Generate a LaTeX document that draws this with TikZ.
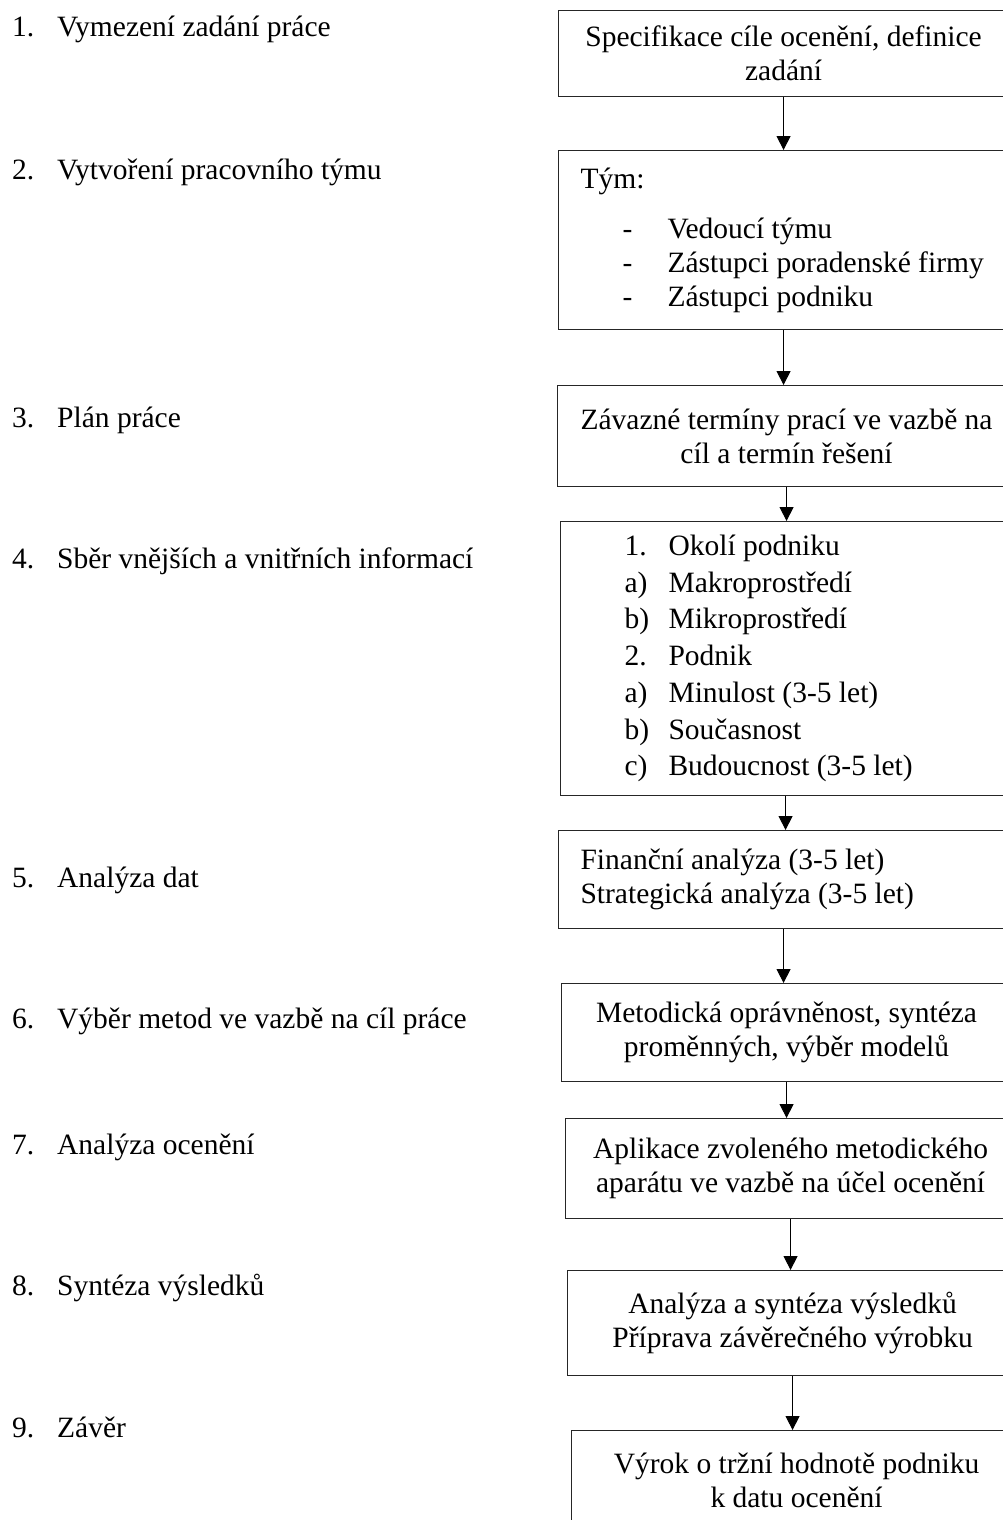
\documentclass[tikz,border=0pt]{standalone}
\usepackage{fontspec}
\setmainfont{Liberation Serif}
\usetikzlibrary{arrows.meta, positioning}

\begin{document}
\begin{tikzpicture}[
        x=1pt, y=-1pt,
        % Define node styles
        stepbox/.style={rectangle, draw=black!85, line width=1.1pt, anchor=north west,
            minimum width=450pt, text width=406pt, inner xsep=22pt, inner ysep=0pt,
            align=flush center, font=\fontsize{29.5}{34}\selectfont},
        phase/.style={anchor=base west, inner sep=0pt, font=\fontsize{29.5}{34}\selectfont},
        arrow/.style={line width=1pt, -{Triangle[width=14pt, length=14pt]}}
    ]

    \useasboundingbox (0,0) rectangle (1003,1520);
    \fill[white] (0,0) rectangle (1003,1520);
    \clip (0,0) rectangle (1003,1520);

    % Phases on the left
    \node[phase] (l1) at (12,37)   {\makebox[45pt][l]{1.}Vymezení zadání práce};
    \node[phase] (l2) at (12,179)  {\makebox[45pt][l]{2.}Vytvoření pracovního týmu};
    \node[phase] (l3) at (12,427)  {\makebox[45pt][l]{3.}Plán práce};
    \node[phase] (l4) at (12,568)  {\makebox[45pt][l]{4.}Sběr vnějších a vnitřních informací};
    \node[phase] (l5) at (12,887)  {\makebox[45pt][l]{5.}Analýza dat};
    \node[phase] (l6) at (12,1028) {\makebox[45pt][l]{6.}Výběr metod ve vazbě na cíl práce};
    \node[phase] (l7) at (12,1154) {\makebox[45pt][l]{7.}Analýza ocenění};
    \node[phase] (l8) at (12,1295) {\makebox[45pt][l]{8.}Syntéza výsledků};
    \node[phase] (l9) at (12,1437) {\makebox[45pt][l]{9.}Závěr};

    % Boxes on the right
    \node[stepbox, minimum height=86pt] (b1) at (558,10)
        {Specifikace cíle ocenění, definice zadání};
    \node[stepbox, minimum height=179pt, align=flush left] (b2) at (558,150)
        {Tým:\\[16pt]
         \hspace*{42pt}\makebox[45pt][l]{-}Vedoucí týmu\\
         \hspace*{42pt}\makebox[45pt][l]{-}Zástupci poradenské firmy\\
         \hspace*{42pt}\makebox[45pt][l]{-}Zástupci podniku};
    \node[stepbox, minimum height=101pt, text width=414pt] (b3) at (557,385)
        {Závazné termíny prací ve vazbě na cíl a termín řešení};
    \node[stepbox, minimum height=274pt, align=flush left, font=\fontsize{29.5}{36.7}\selectfont] (b4) at (560,521)
        {\hspace*{42pt}\makebox[44pt][l]{1.}Okolí podniku\\
         \hspace*{42pt}\makebox[44pt][l]{a)}Makroprostředí\\
         \hspace*{42pt}\makebox[44pt][l]{b)}Mikroprostředí\\
         \hspace*{42pt}\makebox[44pt][l]{2.}Podnik\\
         \hspace*{42pt}\makebox[44pt][l]{a)}Minulost (3-5 let)\\
         \hspace*{42pt}\makebox[44pt][l]{b)}Současnost\\
         \hspace*{42pt}\makebox[44pt][l]{c)}Budoucnost (3-5 let)};
    \node[stepbox, minimum height=98pt, align=flush left] (b5) at (558,830)
        {Finanční analýza (3-5 let)\\ Strategická analýza (3-5 let)};
    \node[stepbox, minimum height=98pt] (b6) at (561,983)
        {Metodická oprávněnost, syntéza proměnných, výběr modelů};
    \node[stepbox, minimum height=100pt] (b7) at (565,1118)
        {Aplikace zvoleného metodického aparátu ve vazbě na účel ocenění};
    \node[stepbox, minimum height=105pt] (b8) at (567,1270)
        {Analýza a syntéza výsledků\\ Příprava závěrečného výrobku};
    \node[stepbox, minimum height=100pt] (b9) at (571,1430)
        {Výrok o tržní hodnotě podniku\\ k datu ocenění};

    % Connect the boxes
    \foreach \a/\b in {b1/b2, b2/b3, b3/b4, b4/b5, b5/b6, b6/b7, b7/b8, b8/b9}
        \draw[arrow] (\a.south) -- (\a.south |- \b.north);

\end{tikzpicture}
\end{document}
